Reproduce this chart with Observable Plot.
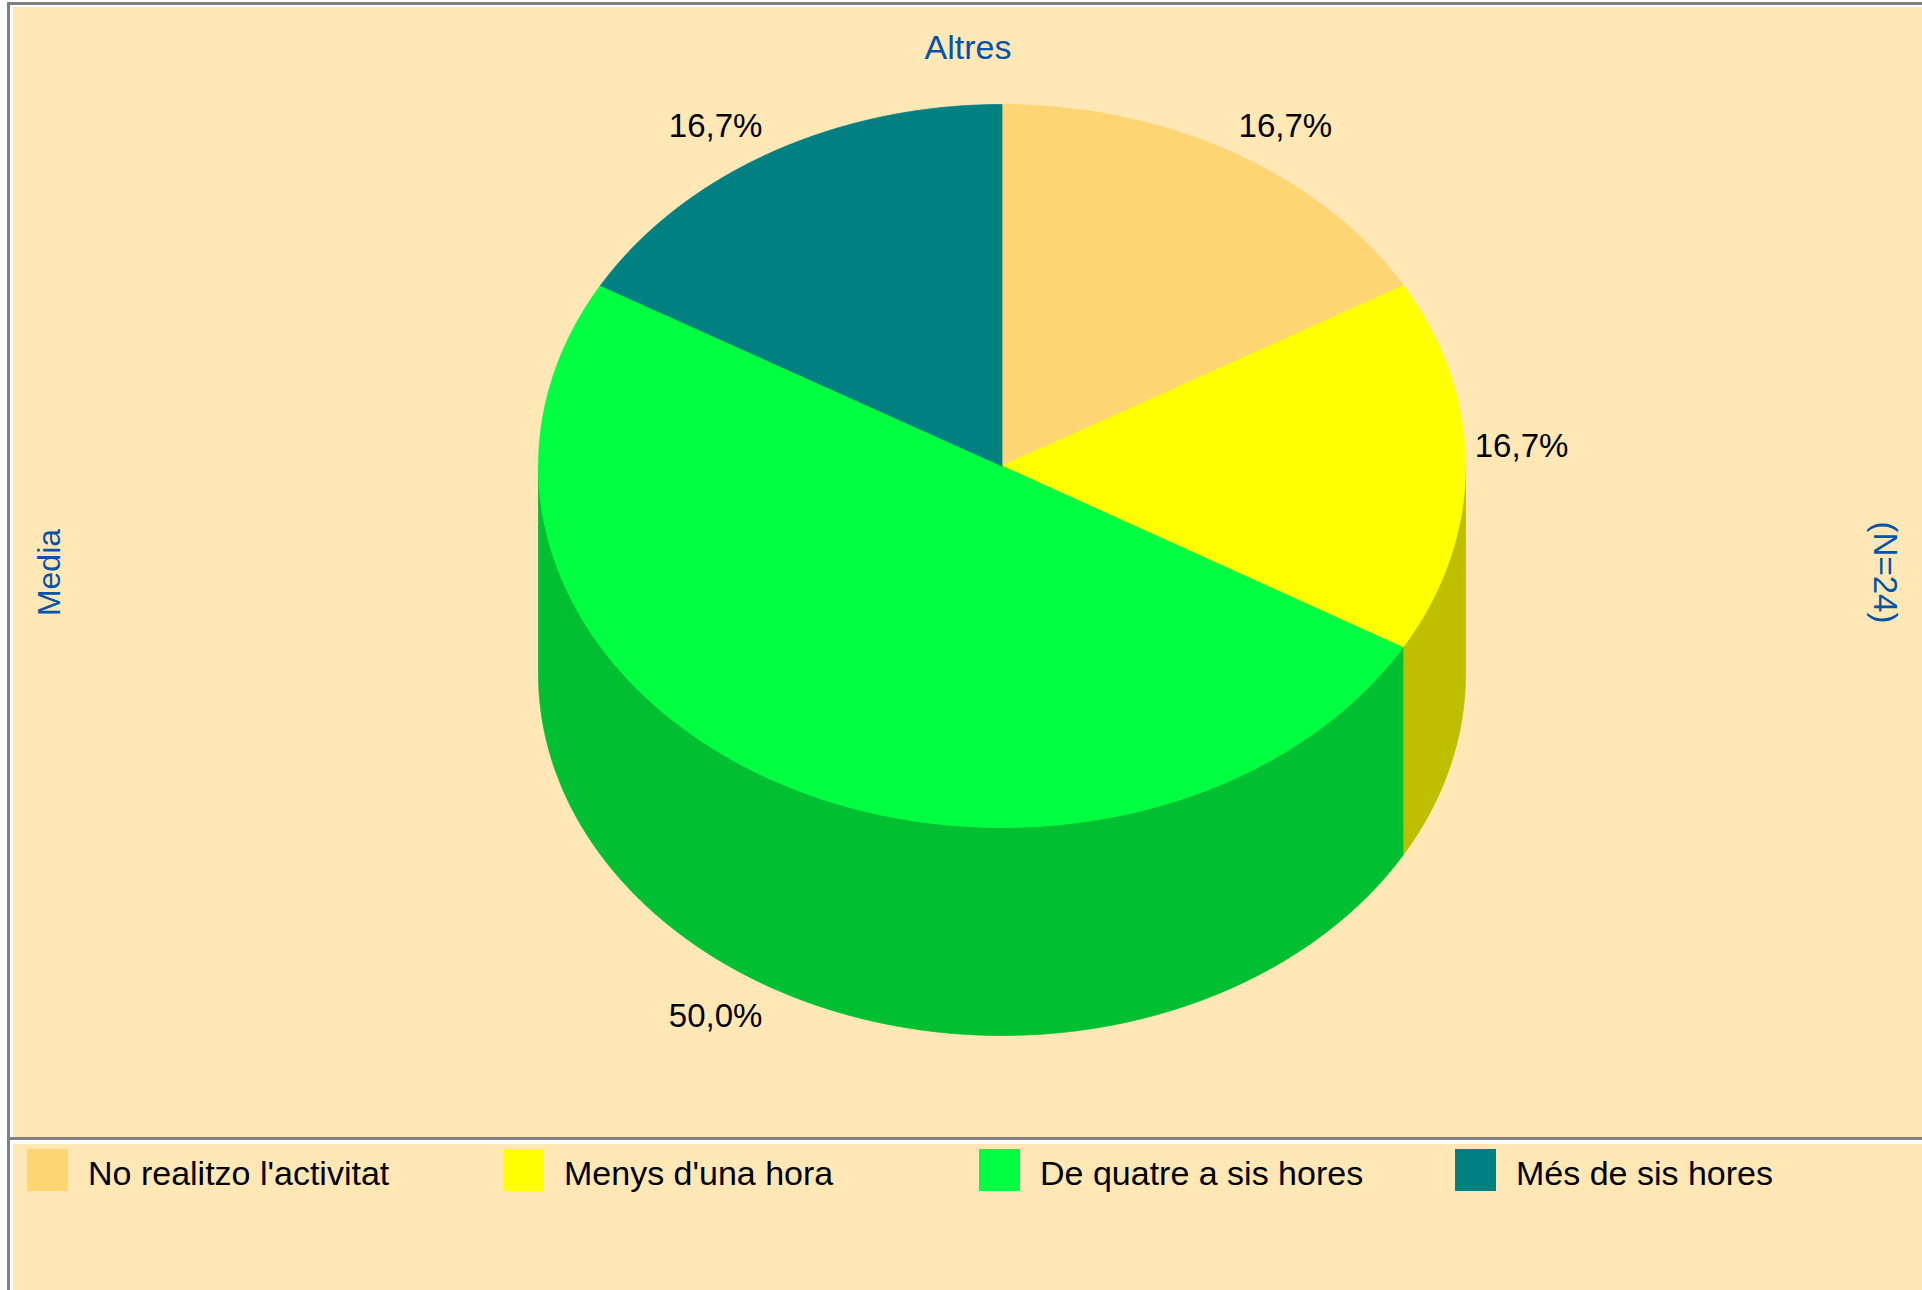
<!DOCTYPE html>
<html>
<head>
<meta charset="utf-8">
<script src="https://cdn.jsdelivr.net/npm/d3@7"></script>
<script src="https://cdn.jsdelivr.net/npm/@observablehq/plot@0.6"></script>
<style>
  html, body { margin: 0; padding: 0; background: #ffffff; }
  body { width: 1922px; height: 1290px; position: relative; overflow: hidden;
         font-family: "Liberation Sans", Arial, sans-serif; }
  .gray { position: absolute; background: #808080; }
  .panel { position: absolute; background: #FFE8B6; }
  .sw { position: absolute; width: 41px; height: 42px; }
  .lt { position: absolute; font-size: 34px; line-height: 42px; color: #000; white-space: nowrap; }
</style>
</head>
<body>
<div class="gray" style="left:7px;top:2px;width:1915px;height:3px"></div>
<div class="gray" style="left:7px;top:2px;width:3px;height:1288px"></div>
<div class="panel" id="chart" style="left:13px;top:7px;width:1909px;height:1130px"></div>
<div class="gray" style="left:7px;top:1137px;width:1915px;height:3px"></div>
<div class="panel" id="legend" style="left:13px;top:1144px;width:1909px;height:146px"></div>
<script>
// ---- data ----
const categories = ["No realitzo l'activitat", "Menys d'una hora", "De quatre a sis hores", "Més de sis hores"];
const percentages = [16.7, 16.7, 50.0, 16.7];
const topColors = ["#FFD574", "#FFFF00", "#00FF40", "#008080"];
const titleText = "Altres";
const leftText = "Media";
const rightText = "(N=24)";

// ---- layout (pixels) ----
const W = 1909, H = 1130;
const CX = 988.5, CY = 458.5;     // pie centre inside the svg
const R = 463.5;                  // horizontal radius (1 unit)
const TILT = 361.5 / R;           // vertical radius in units
const DEPTH = 208 / R;            // thickness in units
const blue = "#0553A8";
const font = "'Liberation Sans', Arial, sans-serif";

const sideColor = c => { const k = d3.rgb(c); return d3.rgb(k.r * 0.75, k.g * 0.75, k.b * 0.75).formatHex(); };

const arcs = d3.pie().sort(null).value(d => d)(percentages);
const pt = (t, dy = 0) => ({x: Math.sin(t), y: -TILT * Math.cos(t) + dy});
const step = Math.PI / 720;

// top faces
const tops = [];
arcs.forEach((a, i) => {
  const cat = categories[i];
  tops.push({x: 0, y: 0, cat});
  const n = Math.max(2, Math.ceil((a.endAngle - a.startAngle) / step));
  for (let k = 0; k <= n; k++) {
    const t = a.startAngle + (a.endAngle - a.startAngle) * k / n;
    tops.push({...pt(t), cat});
  }
  tops.push({x: 0, y: 0, cat});
});

// visible side walls (front half: 90°..270°)
const sides = [];
arcs.forEach((a, i) => {
  const s = Math.max(a.startAngle, Math.PI / 2), e = Math.min(a.endAngle, 3 * Math.PI / 2);
  if (s >= e) return;
  const pts = [];
  const n = Math.max(2, Math.ceil((e - s) / step));
  for (let k = 0; k <= n; k++) pts.push(pt(s + (e - s) * k / n));
  for (let k = n; k >= 0; k--) pts.push(pt(s + (e - s) * k / n, DEPTH));
  pts.push(pts[0]);
  sides.push({i, pts});
});

// labels
const labels = arcs.map((a, i) => {
  const m = (a.startAngle + a.endAngle) / 2;
  const s = Math.sin(m), c = Math.cos(m);
  const front = c < -0.05;
  return {
    x: 1.02 * s,
    y: -TILT * 1.02 * c + (front ? DEPTH : 0),
    right: s > 0, front,
    text: d3.format(".1f")(percentages[i]).replace(".", ",") + "%"
  };
});
const labelMark = (right, front) => Plot.text(labels.filter(d => d.right === right && d.front === front), {
  x: "x", y: "y", text: "text",
  textAnchor: right ? "start" : "end",
  lineAnchor: front ? "top" : "bottom",
  dx: right ? 0 : -3, dy: front ? 10 : -10,
  fontSize: 33, fill: "#000", fontFamily: font
});

const chart = Plot.plot({
  width: W, height: H,
  margin: 0,
  style: {background: "transparent", fontFamily: font},
  x: {domain: [-CX / R, (W - CX) / R], axis: null},
  y: {domain: [(H - CY) / R, -CY / R], axis: null},
  color: {domain: categories, range: topColors},
  marks: [
    ...sides.map(s => Plot.line(s.pts, {x: "x", y: "y", fill: sideColor(topColors[s.i]), stroke: sideColor(topColors[s.i]), strokeWidth: 0.8})),
    Plot.line(tops, {x: "x", y: "y", z: "cat", fill: "cat", stroke: "cat", strokeWidth: 0.8}),
    labelMark(true, false), labelMark(false, false), labelMark(true, true), labelMark(false, true),
    Plot.text([titleText], {frameAnchor: "top", dy: 41, lineAnchor: "middle", text: d => d, fill: blue, fontSize: 34, fontFamily: font}),
    Plot.text([leftText], {frameAnchor: "left", dx: 36, rotate: -90, textAnchor: "middle", lineAnchor: "middle", text: d => d, fill: blue, fontSize: 32, fontFamily: font}),
    Plot.text([rightText], {frameAnchor: "right", dx: -38, rotate: 90, textAnchor: "middle", lineAnchor: "middle", text: d => d, fill: blue, fontSize: 33, fontFamily: font})
  ]
});
document.getElementById("chart").appendChild(chart);

// legend
const leg = document.getElementById("legend");
categories.forEach((c, i) => {
  const sw = document.createElement("div");
  sw.className = "sw";
  sw.style.left = (14 + 476 * i) + "px";
  sw.style.top = "5px";
  sw.style.background = topColors[i];
  leg.appendChild(sw);
  const t = document.createElement("div");
  t.className = "lt";
  t.style.left = (75 + 476 * i) + "px";
  t.style.top = "8px";
  t.textContent = c;
  leg.appendChild(t);
});
</script>
</body>
</html>
